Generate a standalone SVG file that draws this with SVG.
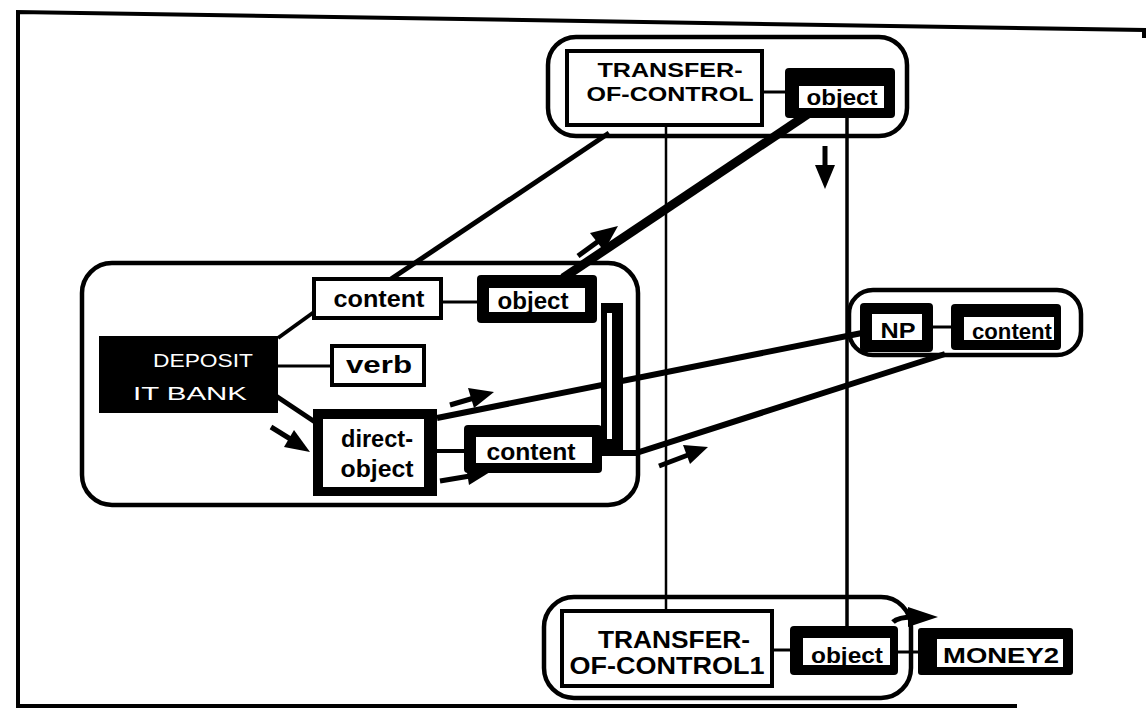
<svg xmlns="http://www.w3.org/2000/svg" width="1147" height="723" viewBox="0 0 1147 723">
<style>
.wbox{fill:#fff;stroke:#000;stroke-width:4}
.cont{fill:none;stroke:#000;stroke-width:4.5}
.blk{fill:#000}
.inner{fill:#fff}
.lbl{font-family:"Liberation Sans",Arial,sans-serif;font-weight:bold;fill:#000;text-anchor:middle}
.wlbl{font-family:"Liberation Sans",Arial,sans-serif;font-weight:normal;fill:#fff;text-anchor:middle}
.ln{stroke:#000;fill:none;stroke-linecap:butt}
.arr{stroke:#000;stroke-width:5;fill:none}
.head{fill:#000}
</style>
<rect width="1147" height="723" fill="#fff"/>
<g id="frame">
<polyline class="ln" stroke-width="4" points="1144,38 1144,30 18,12 18,706 1017,706"/>
</g>

<g id="containers">
<rect class="cont" x="548" y="37" width="359" height="99" rx="28"/>
<rect class="cont" x="82" y="263" width="556" height="242" rx="30"/>
<rect class="cont" x="849" y="290" width="232" height="65" rx="24"/>
<rect class="cont" x="544" y="597" width="367" height="101" rx="30"/>
</g>

<g id="connectors">
<line class="ln" stroke-width="3" x1="762" y1="92" x2="785" y2="92"/>
<line class="ln" stroke-width="2.5" x1="666" y1="125" x2="666" y2="611"/>
<line class="ln" stroke-width="3.5" x1="847" y1="118" x2="847" y2="626"/>
<line class="ln" stroke-width="5" x1="391" y1="279" x2="609" y2="133"/>
<line class="ln" stroke-width="9" x1="563" y1="278" x2="808" y2="114"/>
<line class="ln" stroke-width="4" x1="278" y1="338" x2="314" y2="312"/>
<line class="ln" stroke-width="3" x1="278" y1="366" x2="331" y2="366"/>
<line class="ln" stroke-width="5" x1="276" y1="396" x2="315" y2="422"/>
<line class="ln" stroke-width="3" x1="441" y1="302" x2="477" y2="302"/>
<line class="ln" stroke-width="4" x1="437" y1="451" x2="465" y2="451"/>
<line class="ln" stroke-width="6" x1="437" y1="418" x2="862" y2="333"/>
<polyline class="ln" stroke-width="6" points="600,453 636,453 945,354"/>
<rect class="blk" x="601" y="303" width="22" height="152"/>
<rect class="inner" x="607" y="313" width="5" height="126"/>
<line class="ln" stroke-width="3" x1="929" y1="327" x2="951" y2="327"/>
<line class="ln" stroke-width="3" x1="772" y1="650" x2="790" y2="650"/>
<line class="ln" stroke-width="3" x1="897" y1="652" x2="918" y2="652"/>
<!-- arrows -->
<line class="arr" x1="578" y1="256" x2="600" y2="240"/>
<polygon class="head" points="618,226 590,233 604,251"/>
<line class="arr" x1="450" y1="405" x2="474" y2="398"/>
<polygon class="head" points="494,392 468,388 474,408"/>
<line class="arr" x1="271" y1="427" x2="292" y2="440"/>
<polygon class="head" points="310,452 294,430 284,447"/>
<line class="arr" x1="440" y1="481" x2="470" y2="476"/>
<polygon class="head" points="490,472 466,466 469,485"/>
<line class="arr" x1="659" y1="466" x2="688" y2="455"/>
<polygon class="head" points="708,447 683,445 690,464"/>
<line class="arr" x1="825" y1="146" x2="825" y2="168"/>
<polygon class="head" points="825,189 815,165 835,165"/>
<path class="arr" d="M893,622 Q898,617 915,617"/>
<polygon class="head" points="938,617 908,607 908,627"/>
</g>

<g id="transfer-of-control">
<rect class="wbox" x="567" y="51" width="195" height="74"/>
<text class="lbl" x="670" y="77" font-size="21" textLength="145" lengthAdjust="spacingAndGlyphs">TRANSFER-</text>
<text class="lbl" x="670" y="101" font-size="21" textLength="167" lengthAdjust="spacingAndGlyphs">OF-CONTROL</text>
</g>
<g id="toc-object">
<rect class="blk" x="785" y="68" width="110" height="50" rx="4"/>
<rect class="inner" x="799" y="86" width="85" height="22"/>
<text class="lbl" x="842" y="105" font-size="22" textLength="71" lengthAdjust="spacingAndGlyphs">object</text>
</g>

<g id="deposit">
<rect class="blk" x="99" y="336" width="179" height="77"/>
<text class="wlbl" x="203" y="367" font-size="19" textLength="100" lengthAdjust="spacingAndGlyphs">DEPOSIT</text>
<text class="wlbl" x="190" y="400" font-size="19" textLength="114" lengthAdjust="spacingAndGlyphs">IT BANK</text>
</g>
<g id="content-upper">
<rect class="wbox" x="314" y="279" width="127" height="39"/>
<text class="lbl" x="379" y="307" font-size="24" textLength="91" lengthAdjust="spacingAndGlyphs">content</text>
</g>
<g id="object-upper">
<rect class="blk" x="477" y="275" width="120" height="48" rx="4"/>
<rect class="inner" x="489" y="288" width="96" height="24"/>
<text class="lbl" x="533" y="309" font-size="24" textLength="71" lengthAdjust="spacingAndGlyphs">object</text>
</g>
<g id="verb">
<rect class="wbox" x="332" y="346" width="92" height="39"/>
<text class="lbl" x="379" y="373" font-size="23" textLength="66" lengthAdjust="spacingAndGlyphs">verb</text>
</g>
<g id="direct-object">
<rect class="blk" x="313" y="409" width="124" height="87"/>
<rect class="inner" x="323" y="419" width="101" height="68"/>
<text class="lbl" x="377" y="447" font-size="23" textLength="72" lengthAdjust="spacingAndGlyphs">direct-</text>
<text class="lbl" x="377" y="477" font-size="23" textLength="73" lengthAdjust="spacingAndGlyphs">object</text>
</g>
<g id="content-lower">
<rect class="blk" x="464" y="425" width="138" height="48" rx="4"/>
<rect class="inner" x="476" y="437" width="116" height="26"/>
<text class="lbl" x="531" y="460" font-size="24" textLength="89" lengthAdjust="spacingAndGlyphs">content</text>
</g>

<g id="np">
<rect class="blk" x="860" y="303" width="73" height="49" rx="4"/>
<rect class="inner" x="872" y="314" width="50" height="26"/>
<text class="lbl" x="898" y="338" font-size="22" textLength="35" lengthAdjust="spacingAndGlyphs">NP</text>
</g>
<g id="np-content">
<rect class="blk" x="951" y="304" width="110" height="46" rx="4"/>
<rect class="inner" x="964" y="317" width="90" height="23"/>
<text class="lbl" x="1012" y="339" font-size="22" textLength="80" lengthAdjust="spacingAndGlyphs">content</text>
</g>

<g id="transfer-of-control1">
<rect class="wbox" x="562" y="611" width="210" height="75"/>
<text class="lbl" x="674" y="648" font-size="23" textLength="152" lengthAdjust="spacingAndGlyphs">TRANSFER-</text>
<text class="lbl" x="667" y="674" font-size="23" textLength="195" lengthAdjust="spacingAndGlyphs">OF-CONTROL1</text>
</g>
<g id="toc1-object">
<rect class="blk" x="790" y="626" width="108" height="49" rx="4"/>
<rect class="inner" x="803" y="638" width="87" height="27"/>
<text class="lbl" x="847" y="663" font-size="22" textLength="72" lengthAdjust="spacingAndGlyphs">object</text>
</g>
<g id="money2">
<rect class="blk" x="918" y="628" width="155" height="47" rx="3"/>
<rect class="inner" x="937" y="639" width="126" height="28"/>
<text class="lbl" x="1001" y="663" font-size="22" textLength="116" lengthAdjust="spacingAndGlyphs">MONEY2</text>
</g>
</svg>
